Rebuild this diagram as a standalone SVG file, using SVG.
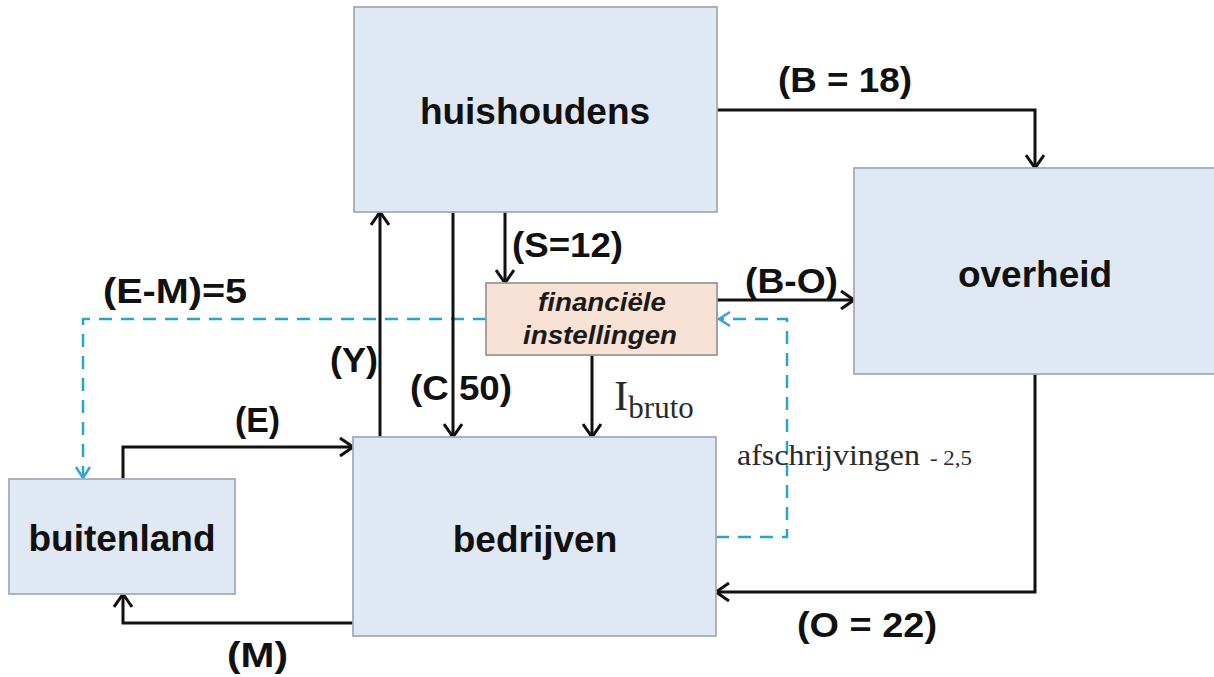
<svg xmlns="http://www.w3.org/2000/svg" width="1214" height="677" viewBox="0 0 1214 677">
<style>
.box{fill:#dfe8f3;stroke:#a3adb8;stroke-width:1.8}
.fin{fill:#f8e2d5;stroke:#9a9a9a;stroke-width:1.8}
.node{font-family:"Liberation Sans",Arial,sans-serif;font-weight:bold;font-size:37px;fill:#111;text-anchor:middle}
.finl{font-family:"Liberation Sans",Arial,sans-serif;font-weight:bold;font-style:italic;font-size:25px;fill:#1a1a1a;text-anchor:middle}
.lbl{font-family:"Liberation Sans",Arial,sans-serif;font-weight:bold;font-size:35px;fill:#111}
.ser{font-family:"Liberation Serif","Times New Roman",serif;fill:#2a2a2a}
.ln{fill:none;stroke:#111;stroke-width:3}
.dash{fill:none;stroke:#2aa5c2;stroke-width:2.5;stroke-dasharray:13 9}
</style>
<defs>
<marker id="ah" markerWidth="17" markerHeight="20" refX="15" refY="10" orient="auto" markerUnits="userSpaceOnUse">
<path d="M2,1 L15,10 L2,19" fill="none" stroke="#111" stroke-width="3"/>
</marker>
<marker id="ahb" markerWidth="16" markerHeight="18" refX="14" refY="9" orient="auto" markerUnits="userSpaceOnUse">
<path d="M3,2 L14,9 L3,16" fill="none" stroke="#3aa3d6" stroke-width="2.5"/>
</marker>
</defs>
<rect width="1214" height="677" fill="#ffffff"/>
<g id="connectors">
<path class="dash" d="M486,319 H83 V478" marker-end="url(#ahb)"/>
<path class="dash" d="M716,537 H787 V319 H719" marker-end="url(#ahb)"/>
<path class="ln" d="M717,110 H1035 V168" marker-end="url(#ah)"/>
<path class="ln" d="M505,212 V283" marker-end="url(#ah)"/>
<path class="ln" d="M453,212 V437" marker-end="url(#ah)"/>
<path class="ln" d="M380,437 V212" marker-end="url(#ah)"/>
<path class="ln" d="M592,355 V437" marker-end="url(#ah)"/>
<path class="ln" d="M717,300 H854" marker-end="url(#ah)"/>
<path class="ln" d="M1035,374 V592 H716" marker-end="url(#ah)"/>
<path class="ln" d="M353,623 H123 V594" marker-end="url(#ah)"/>
<path class="ln" d="M123,479 V447 H353" marker-end="url(#ah)"/>
</g>
<g id="labels">
<text class="lbl" x="778" y="92" textLength="134" lengthAdjust="spacingAndGlyphs">(B = 18)</text>
<text class="lbl" x="745" y="293" textLength="93" lengthAdjust="spacingAndGlyphs">(B-O)</text>
<text class="lbl" x="512" y="257" textLength="111" lengthAdjust="spacingAndGlyphs">(S=12)</text>
<text class="lbl" x="410" y="400" textLength="102" lengthAdjust="spacingAndGlyphs">(C 50)</text>
<text class="lbl" x="330" y="372" textLength="48" lengthAdjust="spacingAndGlyphs">(Y)</text>
<text class="lbl" x="235" y="432" textLength="45" lengthAdjust="spacingAndGlyphs">(E)</text>
<text class="lbl" x="227" y="667" textLength="61" lengthAdjust="spacingAndGlyphs">(M)</text>
<text class="lbl" x="797" y="637" textLength="140" lengthAdjust="spacingAndGlyphs">(O = 22)</text>
<text class="lbl" x="103" y="303" textLength="144" lengthAdjust="spacingAndGlyphs">(E-M)=5</text>
<text class="ser" x="614" y="410" font-size="43">I<tspan font-size="31" dy="8">bruto</tspan></text>
<text class="ser" x="737" y="465" font-size="30" textLength="183" lengthAdjust="spacingAndGlyphs">afschrijvingen</text>
<text class="ser" x="930" y="465" font-size="20" textLength="42" lengthAdjust="spacingAndGlyphs">- 2,5</text>
</g>
<g id="huishoudens">
<rect class="box" x="354" y="7" width="363" height="205"/>
<text class="node" x="535" y="124">huishoudens</text>
</g>
<g id="overheid">
<rect class="box" x="854" y="168" width="362" height="206"/>
<text class="node" x="1035" y="287">overheid</text>
</g>
<g id="bedrijven">
<rect class="box" x="353" y="437" width="363" height="199"/>
<text class="node" x="535" y="552">bedrijven</text>
</g>
<g id="buitenland">
<rect class="box" x="9" y="479" width="226" height="115"/>
<text class="node" x="122" y="551">buitenland</text>
</g>
<g id="financiele-instellingen">
<rect class="fin" x="486" y="283" width="231" height="72"/>
<text class="finl" x="602" y="311" textLength="128" lengthAdjust="spacingAndGlyphs">financiële</text>
<text class="finl" x="600" y="344" textLength="154" lengthAdjust="spacingAndGlyphs">instellingen</text>
</g>
</svg>
